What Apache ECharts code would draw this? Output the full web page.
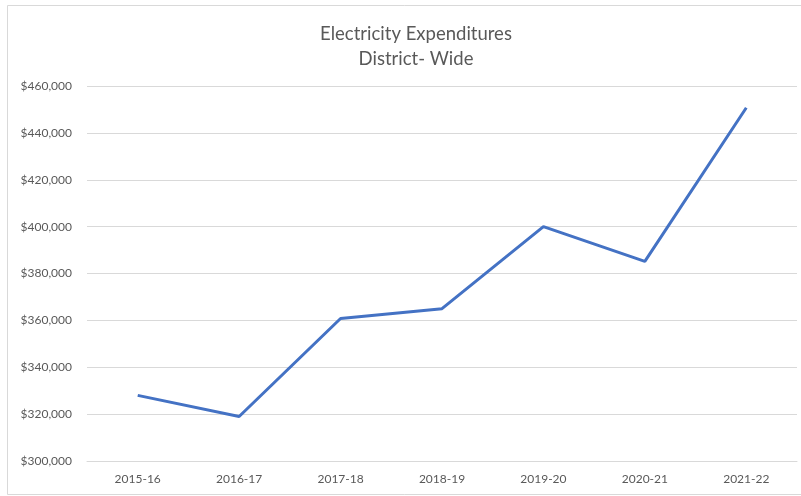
<!DOCTYPE html>
<html>
<head>
<meta charset="utf-8">
<script src="https://cdn.jsdelivr.net/npm/echarts@6/dist/echarts.min.js"></script>
<style>
  html, body { margin: 0; padding: 0; background: #fff; }
  #chart { width: 801px; height: 496px; }
</style>
</head>
<body>
<div id="chart"></div>
<script>
const years = ['2015-16', '2016-17', '2017-18', '2018-19', '2019-20', '2020-21', '2021-22']
const spending = [328000, 319000, 360800, 365000, 400000, 385200, 450700]

const chart = echarts.init(document.getElementById('chart'))
chart.setOption({
  backgroundColor: '#fff',
  animation: false,
  graphic: [{
    type: 'rect',
    shape: { x: 7.5, y: 5.5, width: 800, height: 489 },
    style: { fill: 'none', stroke: '#d9d9d9', lineWidth: 1 },
    silent: true
  }],
  title: {
    left: 411,
    top: 17,
    textAlign: 'center',
    text: 'Electricity Expenditures\nDistrict- Wide',
    textStyle: {
      fontFamily: 'Lato',
      fontWeight: 'normal',
      fontSize: 18.5,
      lineHeight: 25,
      color: '#595959'
    }
  },
  grid: {
    left: 87,
    right: 4,
    top: 86,
    bottom: 35
  },
  xAxis: {
    type: 'category',
    data: years,
    axisTick: { show: false },
    axisLine: { lineStyle: { color: '#d9d9d9', width: 1 } },
    axisLabel: {
      margin: 12,
      fontFamily: 'Lato',
      fontSize: 12,
      color: '#595959'
    }
  },
  yAxis: {
    type: 'value',
    min: 300000,
    max: 460000,
    interval: 20000,
    axisLine: { show: false },
    axisTick: { show: false },
    axisLabel: {
      margin: 15,
      fontFamily: 'Lato',
      fontSize: 12,
      color: '#595959',
      formatter: v => '$' + v.toLocaleString('en-US')
    },
    splitLine: { lineStyle: { color: '#d9d9d9', width: 1 } }
  },
  series: [{
    type: 'line',
    data: spending,
    symbol: 'none',
    lineStyle: { color: '#4472c4', width: 3 }
  }]
})
</script>
</body>
</html>
